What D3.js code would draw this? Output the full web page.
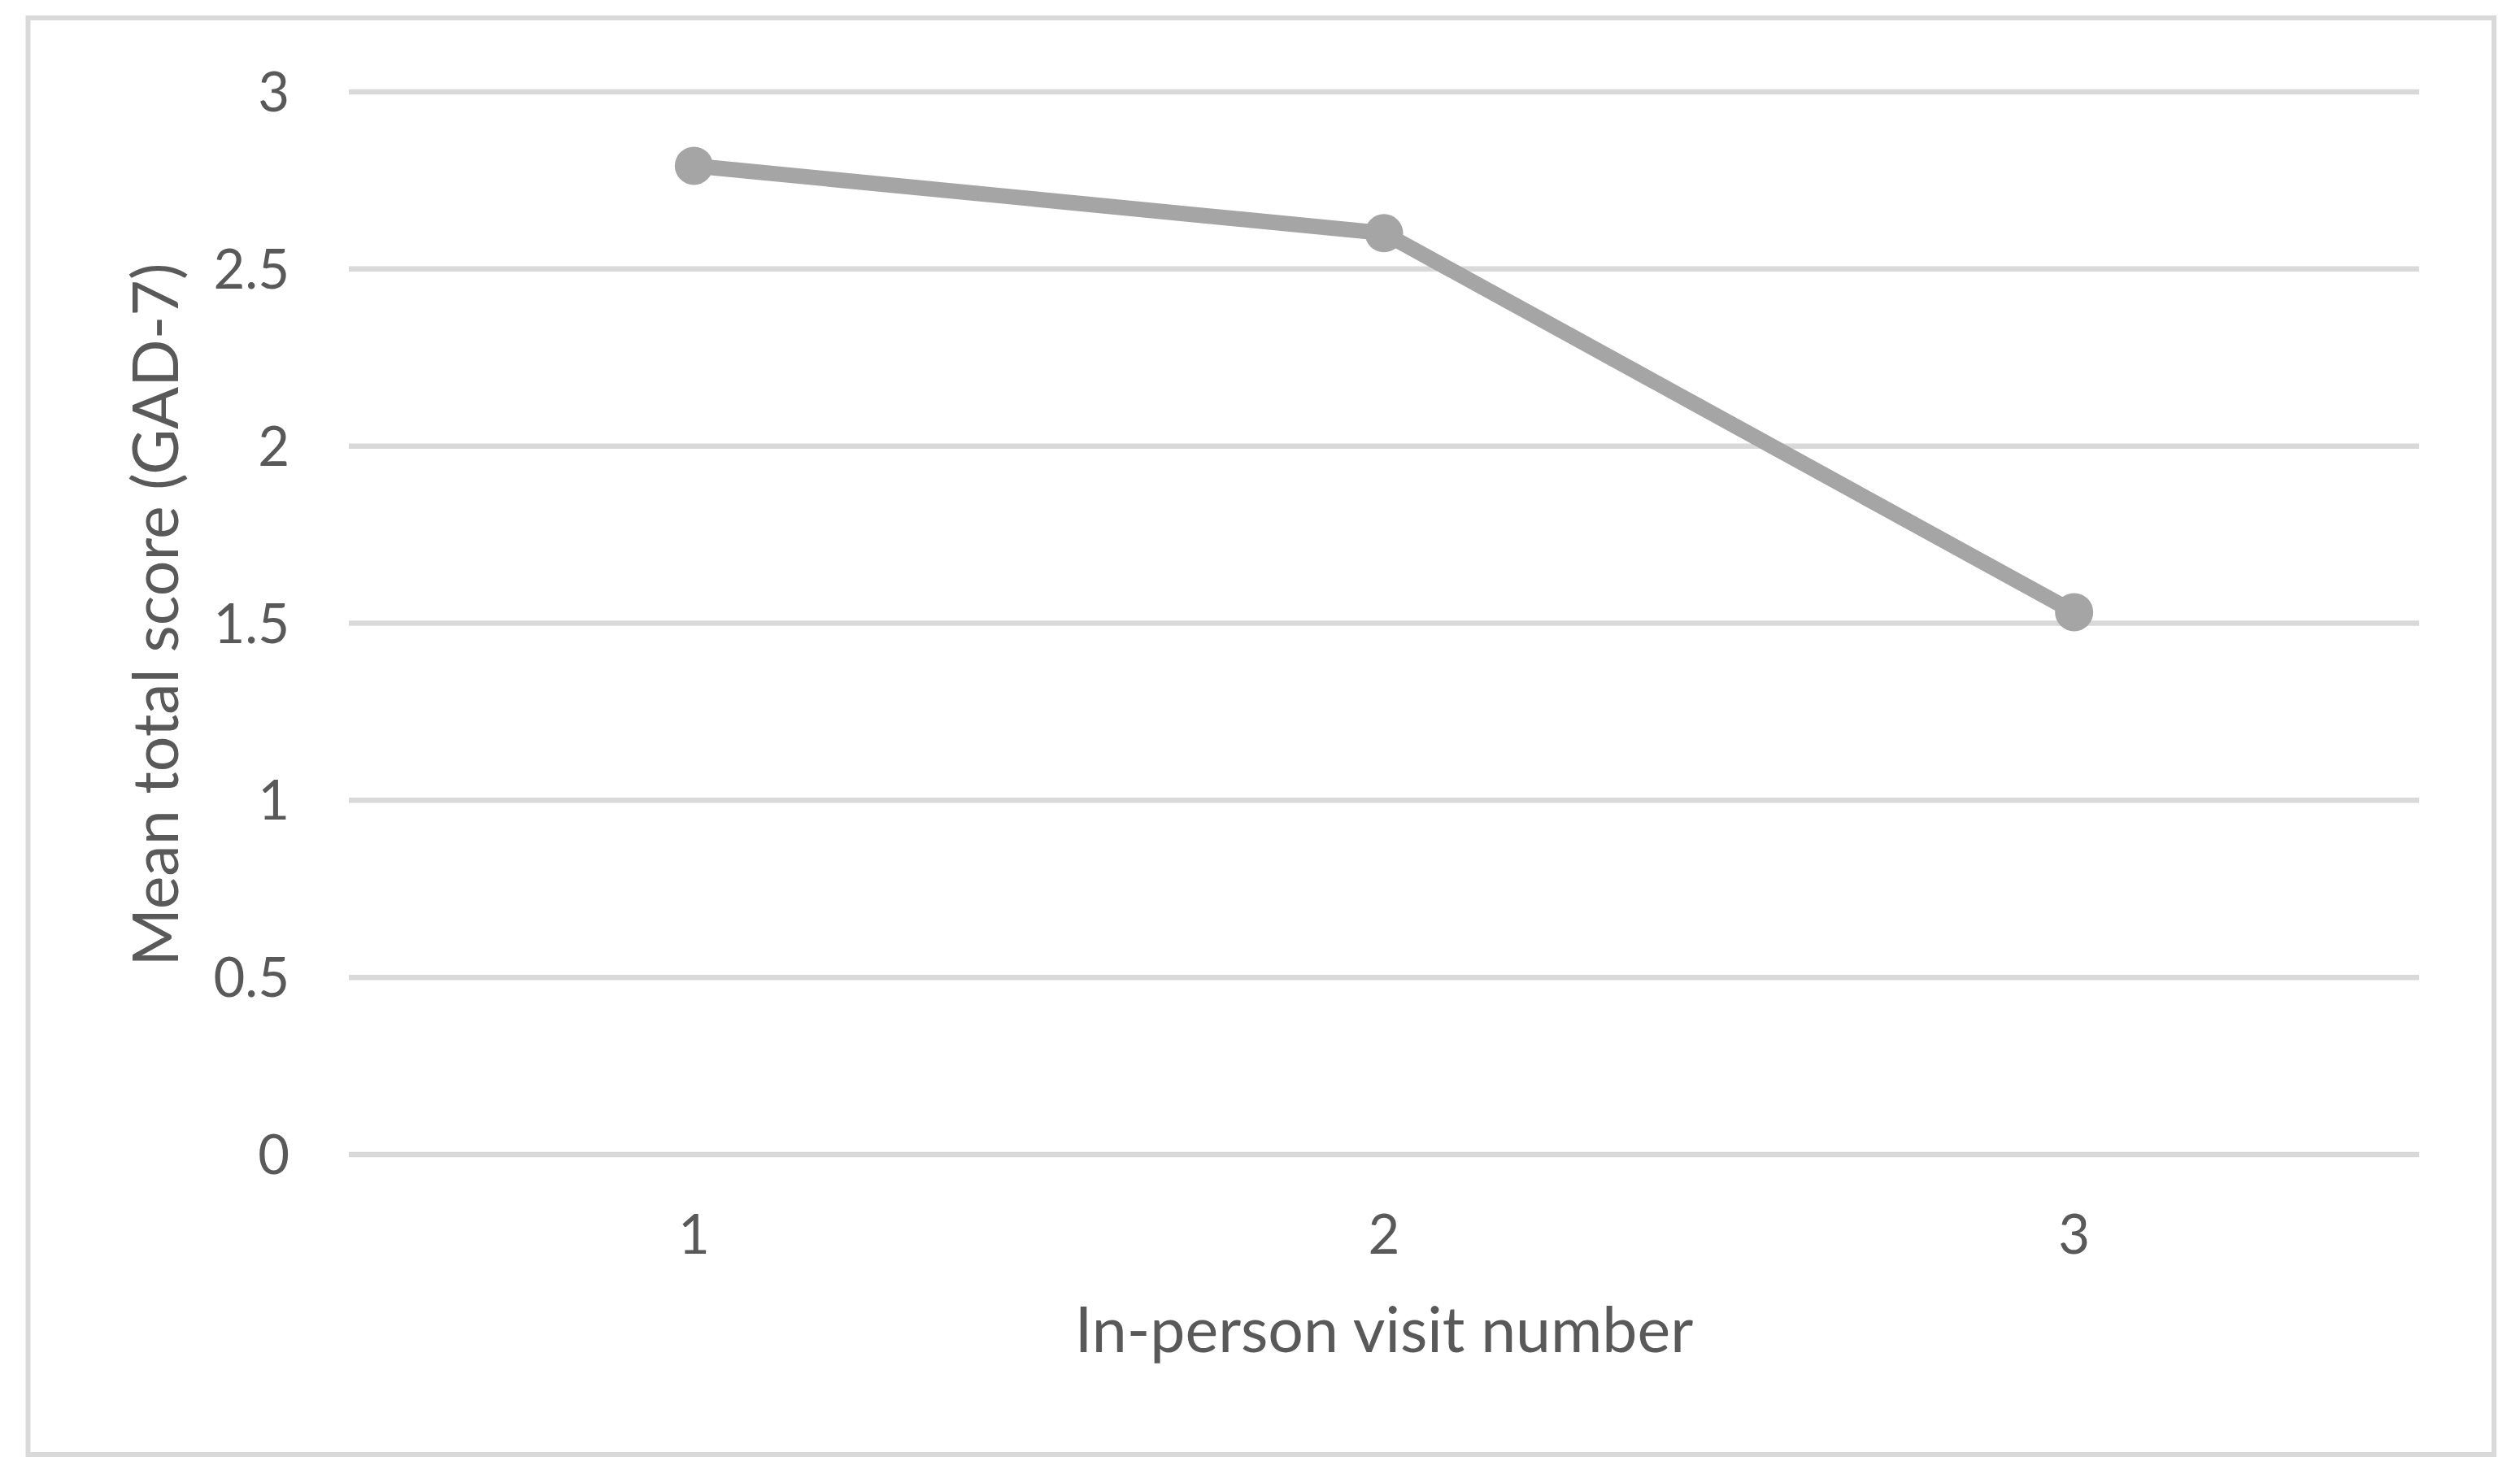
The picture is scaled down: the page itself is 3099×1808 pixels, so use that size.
<!DOCTYPE html>
<html>
<head>
<meta charset="utf-8">
<script src="https://cdn.jsdelivr.net/npm/d3@7"></script>
<style>
  html, body { margin: 0; padding: 0; background: #ffffff; }
  svg { display: block; }
  text { font-family: Lato, "Open Sans", "Noto Sans", sans-serif; fill: #595959; }
</style>
</head>
<body>
<svg id="chart" width="3099" height="1808"></svg>
<script>
// ---- data ----
const categories = ["1", "2", "3"];
const values = [2.79, 2.60, 1.53];
const yTicks = [0, 0.5, 1, 1.5, 2, 2.5, 3];
const yTickLabels = ["0", "0.5", "1", "1.5", "2", "2.5", "3"];
const xTitle = "In-person visit number";
const yTitle = "Mean total score (GAD-7)";

// ---- layout ----
const W = 3099, H = 1808;
const plot = { left: 429, right: 2975, top: 112.5, bottom: 1419.5 };

const svg = d3.select("#chart");

// chart area border
svg.append("rect")
  .attr("x", 34.5).attr("y", 22)
  .attr("width", 3067 - 34.5).attr("height", 1789 - 22)
  .attr("fill", "#ffffff")
  .attr("stroke", "#d9d9d9")
  .attr("stroke-width", 6);

const x = d3.scaleBand().domain(categories).range([plot.left, plot.right]).padding(0);
const y = d3.scaleLinear().domain([0, 3]).range([plot.bottom, plot.top]);

// y axis with gridlines
const yAxis = d3.axisLeft(y)
  .tickValues(yTicks)
  .tickFormat((d, i) => yTickLabels[i])
  .tickSize(-(plot.right - plot.left))
  .tickPadding(73);

const gy = svg.append("g")
  .attr("transform", `translate(${plot.left},0)`)
  .call(yAxis);
gy.select(".domain").remove();
gy.selectAll(".tick line")
  .attr("stroke", "#d9d9d9")
  .attr("stroke-width", 6.5);
gy.selectAll(".tick text")
  .attr("font-size", 67)
  .attr("dy", "0.36em")
  .style("fill", "#595959");

// x axis labels
const xAxis = d3.axisBottom(x).tickSize(0).tickPadding(0);
const gx = svg.append("g")
  .attr("transform", `translate(0,${plot.bottom})`)
  .call(xAxis);
gx.select(".domain").remove();
gx.selectAll(".tick text")
  .attr("font-size", 67)
  .attr("y", 122.5)
  .attr("dy", 0)
  .style("fill", "#595959");

// line
const line = d3.line()
  .x((d, i) => x(categories[i]) + x.bandwidth() / 2)
  .y(d => y(d));

svg.append("path")
  .datum(values)
  .attr("d", line)
  .attr("fill", "none")
  .attr("stroke", "#a5a5a5")
  .attr("stroke-width", 19)
  .attr("stroke-linejoin", "round");

svg.selectAll("circle.marker")
  .data(values)
  .enter().append("circle")
  .attr("class", "marker")
  .attr("cx", (d, i) => x(categories[i]) + x.bandwidth() / 2)
  .attr("cy", d => y(d))
  .attr("r", 23.5)
  .attr("fill", "#a5a5a5");

// axis titles
svg.append("text")
  .attr("x", (plot.left + plot.right) / 2)
  .attr("y", 1663)
  .attr("text-anchor", "middle")
  .attr("font-size", 77)
  .text(xTitle);

svg.append("text")
  .attr("transform", `translate(219,756) rotate(-90)`)
  .attr("text-anchor", "middle")
  .attr("font-size", 77)
  .text(yTitle);
</script>
</body>
</html>
